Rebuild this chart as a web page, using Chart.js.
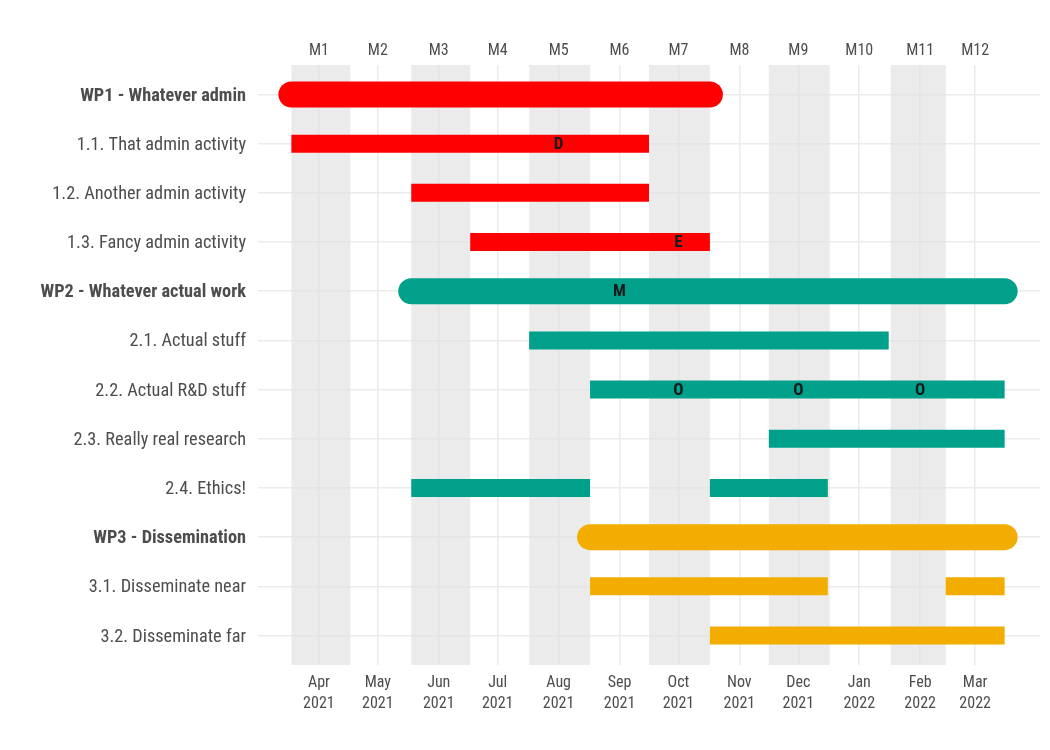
<!DOCTYPE html>
<html><head><meta charset="utf-8">
<script src="https://cdn.jsdelivr.net/npm/chart.js@4.4.0/dist/chart.umd.min.js"></script>
<style>html,body{margin:0;padding:0;background:#fff}#wrap{width:1050px;height:750px}</style>
</head><body><div id="wrap"><canvas id="c" width="1050" height="750"></canvas></div>
<script>
// ---- data ----
const rowLabels = ['WP1 - Whatever admin','1.1. That admin activity','1.2. Another admin activity','1.3. Fancy admin activity',
  'WP2 - Whatever actual work','2.1. Actual stuff','2.2. Actual R&D stuff','2.3. Really real research','2.4. Ethics!',
  'WP3 - Dissemination','3.1. Disseminate near','3.2. Disseminate far'];
const rowGroups = [0,0,0,0,1,1,1,1,1,2,2,2];
const groupColors = ['#FF0000','#00A08A','#F2AD00'];
const wpRows = [0,4,9];
const wpStarts = ['2021-03-18','2021-05-18','2021-08-17'];
const wpEnds = ['2021-10-17','2022-03-16','2022-03-16'];
const actRows = [1,2,3,5,6,7,8,8,10,10,11];
const actStarts = ['2021-03-18','2021-05-18','2021-06-17','2021-07-17','2021-08-17','2021-11-16','2021-05-18','2021-10-17','2021-08-17','2022-02-14','2021-10-17'];
const actEnds = ['2021-09-16','2021-09-16','2021-10-17','2022-01-16','2022-03-16','2022-03-16','2021-08-17','2021-12-16','2021-12-16','2022-03-16','2022-03-16'];
const markerRows = [1,3,4,6,6,6];
const markerDates = ['2021-08-01','2021-10-01','2021-09-01','2021-10-01','2021-12-01','2022-02-01'];
const markerTexts = ['D','E','M','O','O','O'];
const bandStarts = ['2021-03-18','2021-05-18','2021-07-17','2021-09-16','2021-11-16','2022-01-17'];
const bandEnds = ['2021-04-17','2021-06-17','2021-08-17','2021-10-17','2021-12-17','2022-02-14'];
const tickDates = ['2021-04-01','2021-05-01','2021-06-01','2021-07-01','2021-08-01','2021-09-01','2021-10-01','2021-11-01','2021-12-01','2022-01-01','2022-02-01','2022-03-01'];
const tickMonths = ['Apr','May','Jun','Jul','Aug','Sep','Oct','Nov','Dec','Jan','Feb','Mar'];
const tickYears = ['2021','2021','2021','2021','2021','2021','2021','2021','2021','2022','2022','2022'];
const topLabels = ['M1','M2','M3','M4','M5','M6','M7','M8','M9','M10','M11','M12'];
const xMin = '2021-03-01', xMax = '2022-04-03';

// ---- helpers ----
const day = s => Date.UTC(+s.slice(0,4), +s.slice(5,7)-1, +s.slice(8,10)) / 864e5;
const FONT = "'Roboto Condensed','Liberation Sans Narrow','DejaVu Sans Condensed',Roboto,sans-serif";
const TXT = '#4D4D4D';
const GRID = '#EBEBEB';

const datasets = [];
wpRows.forEach((r,i)=>{
  datasets.push({data:[{x:day(wpStarts[i]),y:r},{x:day(wpEnds[i]),y:r}],
    borderColor:groupColors[rowGroups[r]], borderWidth:26, borderCapStyle:'round',
    pointRadius:0, fill:false, tension:0});
});
actRows.forEach((r,i)=>{
  datasets.push({data:[{x:day(actStarts[i]),y:r},{x:day(actEnds[i]),y:r}],
    borderColor:groupColors[rowGroups[r]], borderWidth:18, borderCapStyle:'butt',
    pointRadius:0, fill:false, tension:0});
});

const tickVals = tickDates.map(day);

const gantt = {
  id:'gantt',
  beforeDatasetsDraw(chart){
    const {ctx, chartArea:a, scales:{x}} = chart;
    ctx.save();
    ctx.fillStyle = 'rgba(224,224,224,0.65)';
    bandStarts.forEach((s,i)=>{
      const x0 = x.getPixelForValue(day(s)), x1 = x.getPixelForValue(day(bandEnds[i]));
      ctx.fillRect(x0, a.top, x1-x0, a.bottom-a.top);
    });
    ctx.restore();
  },
  afterDatasetsDraw(chart){
    const {ctx, scales:{x,y}} = chart;
    ctx.save();
    ctx.font = "bold 17px " + FONT;
    ctx.fillStyle = '#1A1A1A';
    ctx.textAlign = 'center';
    ctx.textBaseline = 'middle';
    markerTexts.forEach((t,i)=>{
      ctx.fillText(t, x.getPixelForValue(day(markerDates[i])), y.getPixelForValue(markerRows[i]) + 1);
    });
    ctx.restore();
  }
};

new Chart(document.getElementById('c'), {
  type:'line',
  data:{datasets},
  plugins:[gantt],
  options:{
    responsive:false, animation:false, devicePixelRatio:1,
    layout:{padding:{left:0,right:10,top:0,bottom:0}},
    plugins:{legend:{display:false}, tooltip:{enabled:false}},
    scales:{
      x:{type:'linear', position:'bottom', min:day(xMin), max:day(xMax),
        afterBuildTicks:s=>{s.ticks = tickVals.map(v=>({value:v}));},
        afterFit:s=>{s.height = 85;},
        grid:{color:GRID, lineWidth:1.5, drawTicks:false},
        border:{display:false},
        ticks:{autoSkip:false, maxRotation:0, padding:7, color:TXT,
          font:{family:FONT, size:16, lineHeight:1.33},
          callback:(v,i)=>[tickMonths[i], tickYears[i]]}
      },
      x2:{type:'linear', position:'top', min:day(xMin), max:day(xMax),
        afterBuildTicks:s=>{s.ticks = tickVals.map(v=>({value:v}));},
        afterFit:s=>{s.height = 65;},
        grid:{display:false, drawTicks:false},
        border:{display:false},
        ticks:{autoSkip:false, maxRotation:0, padding:4, color:TXT,
          font:{family:FONT, size:16},
          callback:(v,i)=>topLabels[i]}
      },
      y:{type:'linear', reverse:true, min:-0.6, max:11.6,
        afterBuildTicks:s=>{s.ticks = rowLabels.map((_,i)=>({value:i}));},
        afterFit:s=>{s.width = 258;},
        grid:{color:GRID, lineWidth:1.5, drawTicks:false},
        border:{display:false},
        ticks:{autoSkip:false, padding:12, labelOffset:1.5, color:TXT,
          font:c=>({family:FONT, size:18.3, weight: wpRows.includes(c.tick && c.tick.value) ? 'bold' : 'normal'}),
          callback:v=>rowLabels[v]}
      }
    }
  }
});
</script></body></html>
